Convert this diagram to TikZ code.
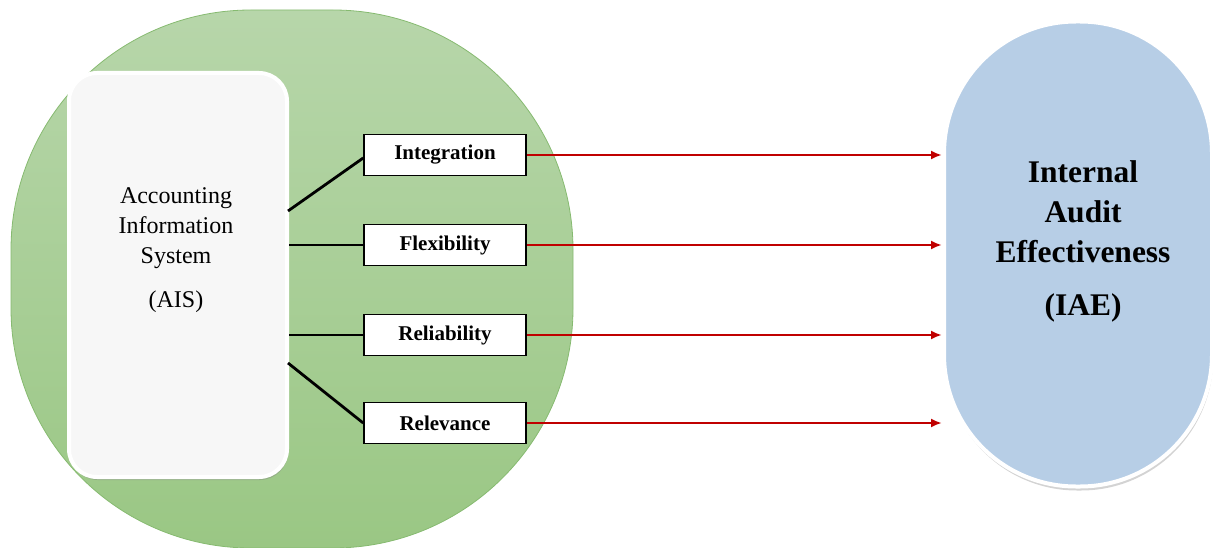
\documentclass[tikz,border=0pt]{standalone}
\usepackage{fontspec}
\setmainfont{Liberation Serif}
\usepackage{tikz}
\usetikzlibrary{arrows.meta,positioning,shadows}

\definecolor{blobtop}{HTML}{B7D6AA}
\definecolor{blobbot}{HTML}{9AC784}
\definecolor{blobline}{HTML}{86BA70}
\definecolor{iaefill}{HTML}{B7CEE6}
\definecolor{aisfill}{HTML}{F7F7F7}
\definecolor{arrowred}{HTML}{C00000}

\tikzset{
  factor/.style={draw,line width=1.6pt,fill=white,minimum width=162pt,minimum height=41pt,inner sep=0pt,
    font=\fontsize{21}{24}\selectfont\bfseries},
  link/.style={line width=2.8pt},
  feed/.style={-{Latex[length=11pt,width=9pt]},line width=2.3pt,arrowred}
}

\begin{document}
\begin{tikzpicture}[x=1pt,y=-1pt]
\useasboundingbox (0,0) rectangle (1214,548);
% outer region of the AIS
\node[draw=blobline,line width=0.8pt,top color=blobtop,bottom color=blobbot,rounded corners=240pt,
  minimum width=562pt,minimum height=538pt,inner sep=0pt] (region) at (292,279) {};
\node[draw=white,line width=4pt,fill=aisfill,rounded corners=28pt,minimum width=218pt,minimum height=404pt,inner sep=0pt,
  drop shadow={shadow xshift=1pt,shadow yshift=-3pt,opacity=0.35}] (ais) at (178,275) {};
\node[align=center,font=\fontsize{24}{30}\selectfont] (aistxt) at (176,250) {Accounting\\Information\\System\\[14pt](AIS)};
% outcome
\node[draw=white,line width=4pt,fill=iaefill,rounded corners=132pt,minimum width=268pt,minimum height=465pt,inner sep=0pt,
  drop shadow={shadow xshift=1pt,shadow yshift=-4pt,opacity=0.35}] (iae) at (1078,254) {};
\node[align=center,font=\fontsize{31.5}{40}\selectfont\bfseries] (iaetxt) at (1083,241) {Internal\\Audit\\Effectiveness\\[13pt](IAE)};
% dimensions
\node[factor] (integ) at (445,155) {Integration};
\node[factor] (flex) at (445,245) {Flexibility};
\node[factor] (relia) at (445,335) {Reliability};
\node[factor] (relev) at (445,423) {Relevance};
\coordinate (a1) at (288,211);
\coordinate (a4) at (288,363);
\draw[link] (a1) -- ([yshift=-3pt]integ.west);
\draw[link] (ais.east |- flex.west) -- (flex.west);
\draw[link] (ais.east |- relia.west) -- (relia.west);
\draw[link] (a4) -- (relev.west);
\foreach \f in {integ,flex,relia,relev}
  \draw[feed] (\f.east) -- (\f.east -| iae.west);
\end{tikzpicture}
\end{document}
